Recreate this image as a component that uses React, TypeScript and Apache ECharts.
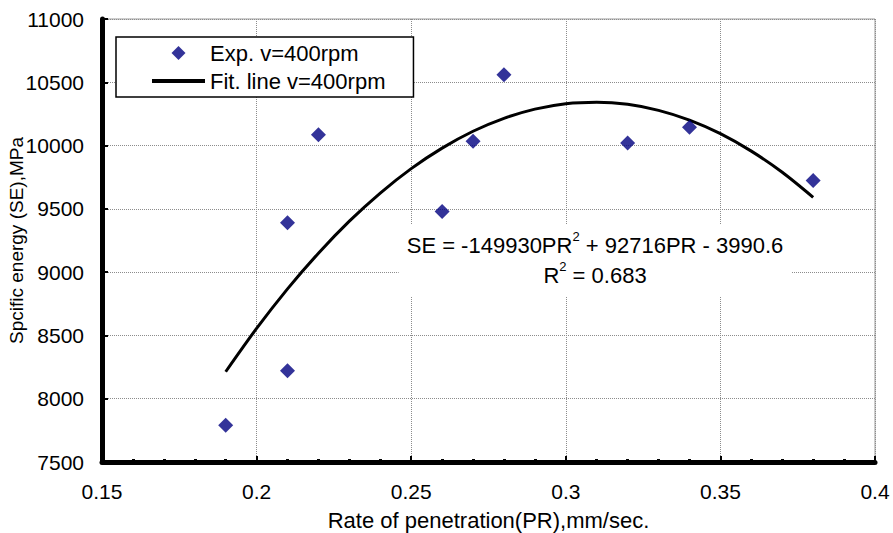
import React, { useEffect, useRef } from 'react';
import * as echarts from 'echarts';

// Experimental points (rate of penetration, specific energy)
const expX = [0.19, 0.21, 0.21, 0.22, 0.26, 0.27, 0.28, 0.32, 0.34, 0.38];
const expY = [7790, 8220, 9390, 10085, 9480, 10035, 10560, 10020, 10145, 9725];

// Fitted line
const fitX = [0.19, 0.2, 0.21, 0.22, 0.23, 0.24, 0.25, 0.26, 0.27, 0.28, 0.29, 0.3, 0.31, 0.32, 0.33, 0.34, 0.35, 0.36, 0.37, 0.38];
const fitY = [8213, 8555, 8868, 9150, 9403, 9625, 9818, 9980, 10113, 10215, 10288, 10331, 10343, 10326, 10278, 10201, 10094, 9956, 9789, 9591];

const seriesNames = ['Exp. v=400rpm', 'Fit. line v=400rpm'];
const xAxisTitle = 'Rate of penetration(PR),mm/sec.';
const yAxisTitle = 'Spcific energy (SE),MPa';
const equationLines = ['SE = -149930PR{sup|2} + 92716PR - 3990.6', 'R{sup|2} = 0.683'];

const FONT = "'Liberation Sans', Arial, Helvetica, sans-serif";

export default function App() {
  const ref = useRef<HTMLDivElement>(null);
  useEffect(() => {
    const chart = echarts.init(ref.current!, null, { renderer: 'svg' });
    chart.setOption({
      animation: false,
      backgroundColor: '#ffffff',
      textStyle: { fontFamily: FONT, color: '#000' },
      grid: {
        left: 102,
        right: 18,
        top: 19,
        bottom: 71,
        containLabel: false,
        outerBoundsMode: 'none',
        show: true,
        borderColor: '#9a9a9a',
        borderWidth: 1,
        backgroundColor: 'transparent',
      },
      legend: {
        orient: 'vertical',
        left: 116,
        top: 37,
        padding: [5, 28, 5, 34],
        itemGap: 6,
        itemWidth: 53,
        itemHeight: 14,
        borderColor: '#000',
        borderWidth: 1.5,
        backgroundColor: '#fff',
        selectedMode: false,
        textStyle: { fontSize: 22, fontFamily: FONT, color: '#000' },
        data: [
          { name: seriesNames[0], icon: 'path://M0,-1L1,0L0,1L-1,0Z' },
          { name: seriesNames[1], itemStyle: { opacity: 0 }, lineStyle: { color: '#000', width: 4 } },
        ],
      },
      xAxis: {
        type: 'value',
        min: 0.15,
        max: 0.4,
        interval: 0.05,
        name: xAxisTitle,
        nameLocation: 'middle',
        nameGap: 47,
        nameMoveOverlap: false,
        nameTextStyle: { fontSize: 22, fontFamily: FONT, color: '#000' },
        axisLine: { show: true, onZero: false, lineStyle: { color: '#000', width: 5 } },
        axisTick: { show: true, inside: true, length: 6, lineStyle: { color: '#000', width: 2 } },
        minorTick: { show: true, splitNumber: 5, length: 3, lineStyle: { color: '#000', width: 3 } },
        axisLabel: {
          fontSize: 21,
          fontFamily: FONT,
          color: '#000',
          margin: 19,
          formatter: (v: number) => String(parseFloat(v.toFixed(2))),
        },
        splitLine: { show: true, lineStyle: { color: '#8c8c8c', width: 1, type: 'dotted' } },
      },
      yAxis: {
        type: 'value',
        min: 7500,
        max: 11000,
        interval: 500,
        name: yAxisTitle,
        nameLocation: 'middle',
        nameGap: 76,
        nameMoveOverlap: false,
        nameRotate: 90,
        nameTextStyle: { fontSize: 19, fontFamily: FONT, color: '#000' },
        axisLine: { show: true, onZero: false, lineStyle: { color: '#000', width: 5 } },
        axisTick: { show: true, inside: true, length: 6, lineStyle: { color: '#000', width: 2 } },
        minorTick: { show: true, splitNumber: 5, length: 3, lineStyle: { color: '#000', width: 3 } },
        axisLabel: {
          fontSize: 21,
          fontFamily: FONT,
          color: '#000',
          margin: 18,
          formatter: (v: number) => String(v),
        },
        splitLine: { show: true, lineStyle: { color: '#8c8c8c', width: 1, type: 'dotted' } },
      },
      series: [
        {
          name: seriesNames[0],
          type: 'scatter',
          symbol: 'diamond',
          symbolSize: 15,
          itemStyle: { color: '#000080' },
          data: expX.map((x, i) => [x, expY[i]]),
          z: 3,
        },
        {
          name: seriesNames[1],
          type: 'line',
          showSymbol: false,
          symbol: 'none',
          smooth: 0.3,
          lineStyle: { color: '#000', width: 3 },
          itemStyle: { color: '#000' },
          data: fitX.map((x, i) => [x, fitY[i]]),
          z: 2,
        },
      ],
      graphic: [
        {
          type: 'text',
          x: 595,
          y: 260,
          z: 10,
          style: {
            text: equationLines.join('\n'),
            fill: '#000',
            fontSize: 22,
            fontFamily: FONT,
            lineHeight: 30,
            align: 'center',
            verticalAlign: 'middle',
            backgroundColor: '#fff',
            padding: [6, 8],
            rich: {
              sup: { fontSize: 13, fontFamily: FONT, lineHeight: 24, verticalAlign: 'top', fill: '#000' },
            },
          },
        },
      ],
    });
    return () => chart.dispose();
  }, []);
  return <div ref={ref} style={{ position: 'fixed', left: 0, top: 0, width: 893, height: 533 }} />;
}
